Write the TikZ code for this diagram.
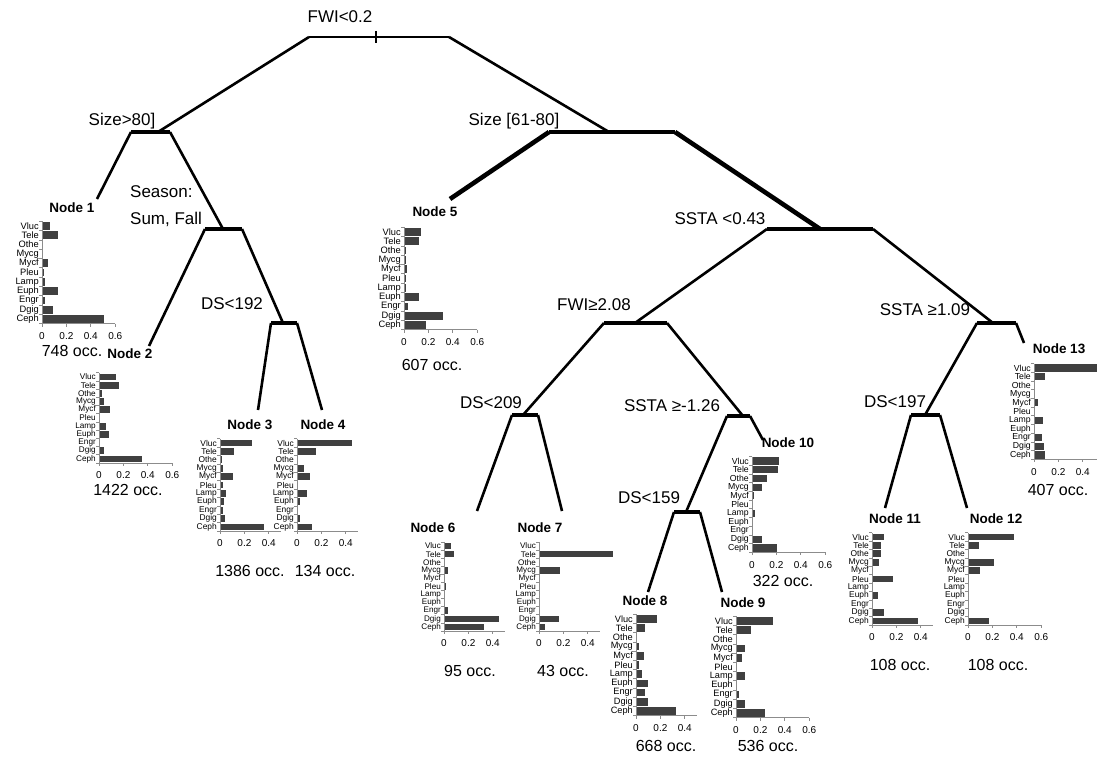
\documentclass[tikz,border=0pt]{standalone}
\usepackage{fontspec}
\setmainfont{Liberation Sans}
\usetikzlibrary{positioning}

% one histogram: name, x of axis, y of first row, row step, axis end, ticks, values
\newcommand{\histo}[7]{%
  \foreach \v [count=\i] in {#7}
    \fill[bar] (#2,{#3+(\i-1)*#4-0.41*#4}) rectangle ({#2+\v*122},{#3+(\i-1)*#4+0.41*#4});
  \foreach \c [count=\i] in {Vluc,Tele,Othe,Mycg,Mycf,Pleu,Lamp,Euph,Engr,Dgig,Ceph}
    \node[cat, font=\fontsize{#4}{#4}\selectfont] (#1-\c) at ({#2-3},{#3+(\i-1)*#4}) {\c};
  \draw[axis] (#2,{#3-0.5*#4}) -- (#2,{#3+10.5*#4}) -- ({#2+#5*122},{#3+10.5*#4});
  \foreach \k in {0,...,11}
    \draw[axis] ({#2-3},{#3+(\k-0.5)*#4}) -- (#2,{#3+(\k-0.5)*#4});
  \foreach \t [count=\j] in {#6} {
    \draw[axis] ({#2+\t*122},{#3+10.5*#4}) -- ({#2+\t*122},{#3+10.5*#4+3});
    \node[tick] (#1-t\j) at ({#2+\t*122},{#3+10.5*#4+8.5}) {\t};
  }
}

\begin{document}
\begin{tikzpicture}[
    x=1pt, y=-1pt,
    split/.style={font=\fontsize{17}{27}\selectfont, inner sep=1pt},
    title/.style={font=\fontsize{13.5}{15}\selectfont\bfseries, inner sep=1pt},
    occ/.style={font=\fontsize{16}{18}\selectfont, inner sep=1pt},
    cat/.style={anchor=east, inner sep=0pt},
    tick/.style={font=\fontsize{10}{10}\selectfont, anchor=north, inner sep=0pt},
    bar/.style={fill=black!75},
    axis/.style={draw=black!45, line width=0.9pt},
    line/.style={draw, line width=2.6pt},
    fork/.style={draw, line width=3.6pt},
    main/.style={draw, line width=4.6pt}
]
\useasboundingbox (0,0) rectangle (1097,757);

% Split labels
\node[split] (fwi) at (340,17) {FWI<0.2};
\node[split] (size80) at (122,121) {Size>80]};
\node[split] (size61) at (514,121) {Size [61-80]};
\node[split, align=left, anchor=west] (season) at (129,206) {Season:\\Sum, Fall};
\node[split] (ds192) at (232,304) {DS<192};
\node[split] (ssta043) at (720,219) {SSTA <0.43};
\node[split] (fwi208) at (594,305) {FWI≥2.08};
\node[split] (ssta109) at (925,310) {SSTA ≥1.09};
\node[split] (ds209) at (491,403) {DS<209};
\node[split] (ssta126) at (672,406) {SSTA ≥-1.26};
\node[split] (ds197) at (895,402) {DS<197};
\node[split] (ds159) at (649,498) {DS<159};

% Fork ends
\coordinate (rL) at (309,37);  \coordinate (rR) at (449,37);
\coordinate (aL) at (131,132); \coordinate (aM) at (158,132); \coordinate (aR) at (170,132);
\coordinate (bL) at (549,132); \coordinate (bM) at (609,132); \coordinate (bR) at (675,132);
\coordinate (cL) at (205,229); \coordinate (cM) at (223,229); \coordinate (cR) at (242,229);
\coordinate (dL) at (271,323); \coordinate (dM) at (283,323); \coordinate (dR) at (297,323);
\coordinate (fL) at (767,229); \coordinate (fM) at (820,229); \coordinate (fR) at (873,229);
\coordinate (gL) at (604,323); \coordinate (gM) at (635,323); \coordinate (gR) at (667,323);
\coordinate (hL) at (977,323); \coordinate (hM) at (993,323); \coordinate (hR) at (1016,323);
\coordinate (iL) at (512,415); \coordinate (iM) at (523,415); \coordinate (iR) at (538,415);
\coordinate (jL) at (727,416); \coordinate (jM) at (743,416); \coordinate (jR) at (750,416);
\coordinate (kL) at (674,512); \coordinate (kM) at (686,512); \coordinate (kR) at (700,512);
\coordinate (lL) at (911,415); \coordinate (lM) at (925,415); \coordinate (lR) at (940,415);

% Leaf ends
\coordinate (e1) at (97,199);   \coordinate (e2) at (149,346);
\coordinate (e3) at (258,410);  \coordinate (e4) at (322,410);
\coordinate (e5) at (450,199);  \coordinate (e6) at (477,511);
\coordinate (e7) at (562,511);  \coordinate (e8) at (648,592);
\coordinate (e9) at (722,592);  \coordinate (e10) at (763,440);
\coordinate (e11) at (885,508); \coordinate (e12) at (967,508);
\coordinate (e13) at (1024,343);

% Tree
\path[line] (rL) -- (rR);
\path[line, line width=1.2pt] (376,31) -- (376,43);
\path[line] (rL) -- (aM);
\path[line] (rR) -- (bM);
\path[fork] (aL) -- (aR);
\path[main] (bL) -- (bR);
\path[line] (aL) -- (e1);
\path[line] (aR) -- (cM);
\path[fork] (cL) -- (cR);
\path[line] (cL) -- (e2);
\path[line] (cR) -- (dM);
\path[fork] (dL) -- (dR);
\path[line] (dL) -- (e3);
\path[line] (dR) -- (e4);
\path[main] (bL) -- (e5);
\path[main] (bR) -- (fM);
\path[fork] (fL) -- (fR);
\path[main] (fL) -- (fM);
\path[line] (fL) -- (gM);
\path[line] (fR) -- (hM);
\path[fork] (gL) -- (gR);
\path[fork] (hL) -- (hR);
\path[line] (hR) -- (e13);
\path[line] (gL) -- (iM);
\path[line] (gR) -- (jM);
\path[fork] (iL) -- (iR);
\path[fork] (jL) -- (jR);
\path[line] (iL) -- (e6);
\path[line] (iR) -- (e7);
\path[line] (jL) -- (kM);
\path[line] (jR) -- (e10);
\path[fork] (kL) -- (kR);
\path[line] (kL) -- (e8);
\path[line] (kR) -- (e9);
\path[line] (hL) -- (lM);
\path[fork] (lL) -- (lR);
\path[line] (lL) -- (e11);
\path[line] (lR) -- (e12);

% Histograms
\histo{h1}{42}{226}{9.3}{0.6}{0,0.2,0.4,0.6}{0.067,0.13,0,0.008,0.048,0.016,0.024,0.13,0.027,0.089,0.51}
\histo{h2}{99}{377}{8.2}{0.6}{0,0.2,0.4,0.6}{0.14,0.16,0.026,0.039,0.09,0,0.054,0.078,0,0.039,0.35}
\histo{h3}{220}{443}{8.4}{0.5}{0,0.2,0.4}{0.263,0.118,0.014,0.022,0.104,0.022,0.049,0.03,0.022,0.041,0.36}
\histo{h4}{297}{443}{8.4}{0.5}{0,0.2,0.4}{0.45,0.156,0,0.057,0.11,0,0.083,0.026,0,0.026,0.125}
\histo{h5}{404}{232}{9.3}{0.6}{0,0.2,0.4,0.6}{0.14,0.12,0.019,0.013,0.024,0.013,0.019,0.12,0.03,0.32,0.18}
\histo{h6}{444}{546}{8.1}{0.5}{0,0.2,0.4}{0.056,0.083,0,0.03,0,0.013,0,0,0.03,0.45,0.33}
\histo{h7}{539}{546}{8.1}{0.5}{0,0.2,0.4}{0.01,0.61,0,0.17,0,0.005,0.005,0,0,0.16,0.05}
\histo{h8}{636}{619}{9.2}{0.5}{0,0.2,0.4}{0.176,0.075,0.005,0.024,0.064,0.024,0.053,0.1,0.072,0.1,0.33}
\histo{h9}{736}{621}{9.2}{0.6}{0,0.2,0.4,0.6}{0.3,0.12,0,0.077,0.048,0,0.07,0.01,0.024,0.07,0.24}
\histo{h10}{752}{461}{8.7}{0.6}{0,0.2,0.4,0.6}{0.225,0.216,0.12,0.08,0.016,0.003,0.027,0,0.01,0.08,0.205}
\histo{h11}{872}{537}{8.4}{0.5}{0,0.2,0.4}{0.095,0.076,0.07,0.058,0,0.17,0,0.053,0,0.1,0.376}
\histo{h12}{968}{537}{8.4}{0.6}{0,0.2,0.4,0.6}{0.38,0.092,0,0.21,0.095,0,0,0,0,0.008,0.174}
\histo{h13}{1034}{368}{8.7}{0.6}{0,0.2,0.4,0.6}{0.58,0.086,0,0.012,0.03,0,0.074,0.012,0.069,0.081,0.09}

% Node titles
\node[title] (n1) at (72,208) {Node 1};
\node[title] (n2) at (130,354) {Node 2};
\node[title] (n3) at (250,425) {Node 3};
\node[title] (n4) at (323,425) {Node 4};
\node[title] (n5) at (435,212) {Node 5};
\node[title] (n6) at (433,528) {Node 6};
\node[title] (n7) at (540,528) {Node 7};
\node[title] (n8) at (645,601) {Node 8};
\node[title] (n9) at (743,603) {Node 9};
\node[title] (n10) at (788,443) {Node 10};
\node[title] (n11) at (895,519) {Node 11};
\node[title] (n12) at (996,519) {Node 12};
\node[title] (n13) at (1059,349) {Node 13};

% Occurrences
\node[occ] (o1) at (72,351) {748 occ.};
\node[occ] (o2) at (128,490) {1422 occ.};
\node[occ] (o3) at (250,571) {1386 occ.};
\node[occ] (o4) at (325,571) {134 occ.};
\node[occ] (o5) at (432,365) {607 occ.};
\node[occ] (o6) at (470,671) {95 occ.};
\node[occ] (o7) at (563,671) {43 occ.};
\node[occ] (o8) at (666,746) {668 occ.};
\node[occ] (o9) at (768,746) {536 occ.};
\node[occ] (o10) at (783,581) {322 occ.};
\node[occ] (o11) at (900,665) {108 occ.};
\node[occ] (o12) at (998,665) {108 occ.};
\node[occ] (o13) at (1058,490) {407 occ.};

\end{tikzpicture}
\end{document}
